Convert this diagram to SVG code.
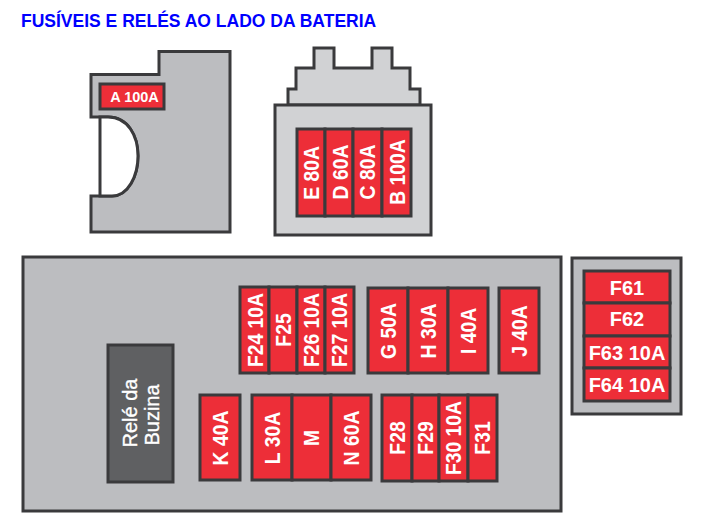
<svg xmlns="http://www.w3.org/2000/svg" width="709" height="529" viewBox="0 0 709 529">
<style>
.bg{fill:#fff}
.b{stroke:#3a3a3c;stroke-width:3;stroke-linejoin:miter}
.g1{fill:#bcbdc0}
.g2{fill:#d1d2d4}
.f rect{fill:#ed2e38;stroke:#3a3a3c;stroke-width:3}
text{font-family:"Liberation Sans",Arial,sans-serif;font-weight:700;fill:#fff;text-anchor:middle;font-size:20px}
.v{dominant-baseline:central}
.r{font-size:21.500px}
.rele{font-weight:400;font-size:20px;stroke:#fff;stroke-width:.35}
#title{fill:#0000ff;text-anchor:start;font-size:17.500px}
</style>
<rect class="bg" width="709" height="529"/>
<text id="title" x="21" y="26.500">FUSÍVEIS E RELÉS AO LADO DA BATERIA</text>

<g id="bloco-a">
<path class="b g1" d="M91 74.500H159V51.500H230V232H91V196H100H112C128 196 138 176 138 156C138 136 128 117 108 117H91Z"/>
<path d="M100 117V196H112C128 196 138 176 138 156C138 136 128 117 108 117Z" fill="#fff" stroke="#3a3a3c" stroke-width="3"/>
</g>
<g id="fuse-A" class="f"><rect x="100" y="84" width="64" height="25"/><text x="134.500" y="96.500" class="v" style="font-size:14.500px">A 100A</text></g>

<g id="bloco-b">
<path class="b g2" d="M288 105V89H296V68H314V48H334V68H372V48H392V68H410V89H420V105Z"/>
<rect class="b g2" x="275" y="105" width="156" height="130"/>
</g>
<g id="fuse-E" class="f"><rect x="297" y="129" width="28" height="87"/><text class="v r" transform="translate(311 173) rotate(-90) scale(.9 1)">E 80A</text></g>
<g id="fuse-D" class="f"><rect x="325" y="129" width="28" height="87"/><text class="v r" transform="translate(340 172) rotate(-90) scale(.9 1)">D 60A</text></g>
<g id="fuse-C" class="f"><rect x="353" y="129" width="29" height="87"/><text class="v r" transform="translate(367 172) rotate(-90) scale(.9 1)">C 80A</text></g>
<g id="fuse-B" class="f"><rect x="382" y="129" width="29" height="87"/><text class="v r" transform="translate(397 172) rotate(-90) scale(.9 1)">B 100A</text></g>

<rect id="caixa-principal" class="b g1" x="23" y="257" width="538" height="254"/>

<g id="rele-buzina">
<rect class="b" fill="#5f6062" x="108" y="345" width="65" height="137"/>
<text class="v rele" transform="translate(130 413) rotate(-90)">Relé da</text>
<text class="v rele" transform="translate(152 415) rotate(-90)">Buzina</text>
</g>

<g id="fuse-F24" class="f"><rect x="240" y="287" width="29" height="86"/><text class="v r" transform="translate(255 330) rotate(-90) scale(.9 1)">F24 10A</text></g>
<g id="fuse-F25" class="f"><rect x="269" y="287" width="28" height="86"/><text class="v r" transform="translate(283 330) rotate(-90) scale(.9 1)">F25</text></g>
<g id="fuse-F26" class="f"><rect x="297" y="287" width="28" height="86"/><text class="v r" transform="translate(311 330) rotate(-90) scale(.9 1)">F26 10A</text></g>
<g id="fuse-F27" class="f"><rect x="325" y="287" width="29" height="86"/><text class="v r" transform="translate(339 330) rotate(-90) scale(.9 1)">F27 10A</text></g>

<g id="fuse-G" class="f"><rect x="368" y="288" width="40" height="85"/><text class="v r" transform="translate(388 331) rotate(-90) scale(.9 1)">G 50A</text></g>
<g id="fuse-H" class="f"><rect x="408" y="288" width="40" height="85"/><text class="v r" transform="translate(428 331) rotate(-90) scale(.9 1)">H 30A</text></g>
<g id="fuse-I" class="f"><rect x="448" y="288" width="40" height="85"/><text class="v r" transform="translate(468 331) rotate(-90) scale(.9 1)">I 40A</text></g>
<g id="fuse-J" class="f"><rect x="499" y="288" width="40" height="85"/><text class="v r" transform="translate(519 331) rotate(-90) scale(.9 1)">J 40A</text></g>

<g id="fuse-K" class="f"><rect x="200" y="395" width="40" height="85"/><text class="v r" transform="translate(220 438) rotate(-90) scale(.9 1)">K 40A</text></g>
<g id="fuse-L" class="f"><rect x="252" y="395" width="40" height="85"/><text class="v r" transform="translate(272 438) rotate(-90) scale(.9 1)">L 30A</text></g>
<g id="fuse-M" class="f"><rect x="292" y="395" width="39" height="85"/><text class="v r" transform="translate(311 438) rotate(-90) scale(.9 1)">M</text></g>
<g id="fuse-N" class="f"><rect x="331" y="395" width="40" height="85"/><text class="v r" transform="translate(351 438) rotate(-90) scale(.9 1)">N 60A</text></g>

<g id="fuse-F28" class="f"><rect x="382" y="395" width="30" height="86"/><text class="v r" transform="translate(397 438) rotate(-90) scale(.9 1)">F28</text></g>
<g id="fuse-F29" class="f"><rect x="412" y="395" width="27" height="86"/><text class="v r" transform="translate(425 438) rotate(-90) scale(.9 1)">F29</text></g>
<g id="fuse-F30" class="f"><rect x="439" y="395" width="29" height="86"/><text class="v r" transform="translate(453 438) rotate(-90) scale(.9 1)">F30 10A</text></g>
<g id="fuse-F31" class="f"><rect x="468" y="395" width="29" height="86"/><text class="v r" transform="translate(482 438) rotate(-90) scale(.9 1)">F31</text></g>

<rect id="caixa-lateral" class="b g1" x="572" y="258" width="109" height="156"/>
<g id="fuse-F61" class="f"><rect x="584" y="271" width="86" height="32"/><text class="v" x="627" y="288">F61</text></g>
<g id="fuse-F62" class="f"><rect x="584" y="303" width="86" height="33"/><text class="v" x="627" y="319">F62</text></g>
<g id="fuse-F63" class="f"><rect x="584" y="336" width="86" height="32"/><text class="v" x="627" y="353">F63 10A</text></g>
<g id="fuse-F64" class="f"><rect x="584" y="368" width="86" height="33"/><text class="v" x="627" y="385">F64 10A</text></g>
</svg>
